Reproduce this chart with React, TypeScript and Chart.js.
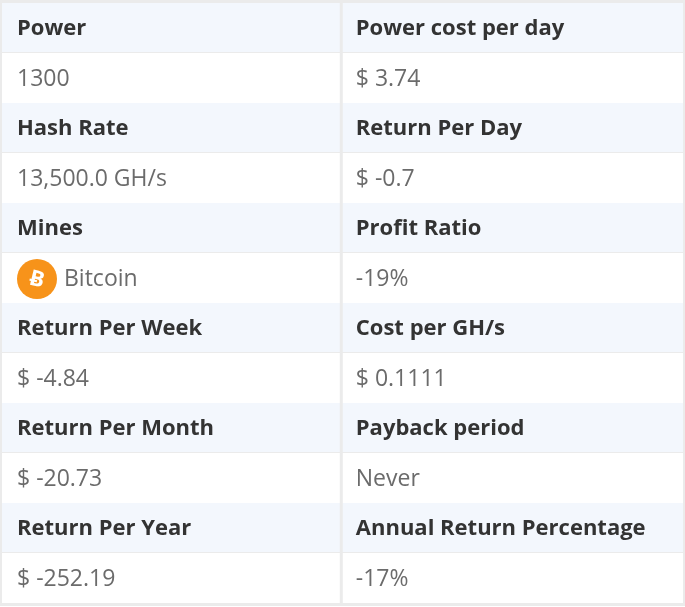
import { useEffect, useRef } from 'react'
import { Chart, registerables } from 'chart.js'

Chart.register(...registerables)

const leftLabels = ['Power', 'Hash Rate', 'Mines', 'Return Per Week', 'Return Per Month', 'Return Per Year']
const leftValues = ['1300', '13,500.0 GH/s', 'Bitcoin', '$ -4.84', '$ -20.73', '$ -252.19']
const rightLabels = ['Power cost per day', 'Return Per Day', 'Profit Ratio', 'Cost per GH/s', 'Payback period', 'Annual Return Percentage']
const rightValues = ['$ 3.74', '$ -0.7', '-19%', '$ 0.1111', 'Never', '-17%']
const columnEdges = [0, 0.995, 2]

const FONT = "'Open Sans', 'Noto Sans', sans-serif"

const tablePlugin = {
  id: 'tableCells',
  afterDraw(chart: Chart) {
    const ctx = chart.ctx
    const xs = chart.scales.x
    const ys = chart.scales.y
    const cols = [
      { labels: leftLabels, values: leftValues },
      { labels: rightLabels, values: rightValues },
    ]
    const rows = leftLabels.length * 2
    ctx.save()
    for (let r = 0; r < rows; r++) {
      const y0 = ys.getPixelForValue(r)
      const y1 = ys.getPixelForValue(r + 1)
      const header = r % 2 === 0
      const i = Math.floor(r / 2)
      ctx.fillStyle = header ? '#f3f7fd' : '#ffffff'
      ctx.fillRect(xs.getPixelForValue(0), y0, xs.getPixelForValue(2) - xs.getPixelForValue(0), y1 - y0)
      cols.forEach((c, ci) => {
        const x0 = xs.getPixelForValue(columnEdges[ci])
        let tx = x0 + 15
        const text = header ? c.labels[i] : c.values[i]
        ctx.font = header ? `bold 22px ${FONT}` : `23px ${FONT}`
        ctx.fillStyle = header ? '#333333' : '#6b6b6b'
        ctx.textBaseline = 'middle'
        if (!header && text === 'Bitcoin') {
          const cx = tx + 20, cy = (y0 + y1) / 2 + 1
          ctx.fillStyle = '#f7931a'
          ctx.beginPath(); ctx.arc(cx, cy, 20, 0, Math.PI * 2); ctx.fill()
          ctx.save()
          ctx.translate(cx, cy); ctx.rotate(0.24)
          ctx.fillStyle = '#ffffff'
          ctx.font = `bold 22px ${FONT}`
          ctx.textAlign = 'center'
          ctx.fillText('\u0243', 0, 1)
          ctx.restore()
          ctx.fillStyle = '#6b6b6b'
          tx += 47
        }
        ctx.fillText(text, tx, (y0 + y1) / 2 + 1)
      })
      if (header) {
        ctx.fillStyle = '#ebebeb'
        ctx.fillRect(xs.getPixelForValue(0), y1 - 1, xs.getPixelForValue(2) - xs.getPixelForValue(0), 3)
      }
    }
    ctx.fillStyle = '#ebebeb'
    const top = ys.getPixelForValue(0), bot = ys.getPixelForValue(rows)
    ctx.fillRect(0, top - 3, chart.width, 3)
    ctx.fillRect(0, bot, chart.width, 3)
    ctx.fillRect(xs.getPixelForValue(columnEdges[1]) - 1, top, 3, bot - top)
    ctx.fillRect(0, top, 2, bot - top)
    ctx.fillRect(chart.width - 2, top, 2, bot - top)
    ctx.restore()
  },
}

export default function App() {
  const canvasRef = useRef<HTMLCanvasElement>(null)
  const chartRef = useRef<Chart | null>(null)

  useEffect(() => {
    if (!canvasRef.current) return
    chartRef.current?.destroy()
    chartRef.current = new Chart(canvasRef.current, {
      type: 'scatter',
      data: { datasets: [{ data: [] }] },
      options: {
        responsive: false,
        animation: false,
        layout: { padding: { top: 3, bottom: 4, left: 2, right: 2 } },
        plugins: { legend: { display: false }, tooltip: { enabled: false } },
        scales: {
          x: { type: 'linear', min: 0, max: 2, display: false },
          y: { type: 'linear', min: 0, max: 12, reverse: true, display: false },
        },
      },
      plugins: [tablePlugin],
    })
    return () => { chartRef.current?.destroy() }
  }, [])

  return (
    <div style={{ position: 'absolute', top: 0, left: 0, width: 685, height: 607, background: '#fff' }}>
      <canvas ref={canvasRef} width={685} height={607} style={{ display: 'block' }} />
    </div>
  )
}
